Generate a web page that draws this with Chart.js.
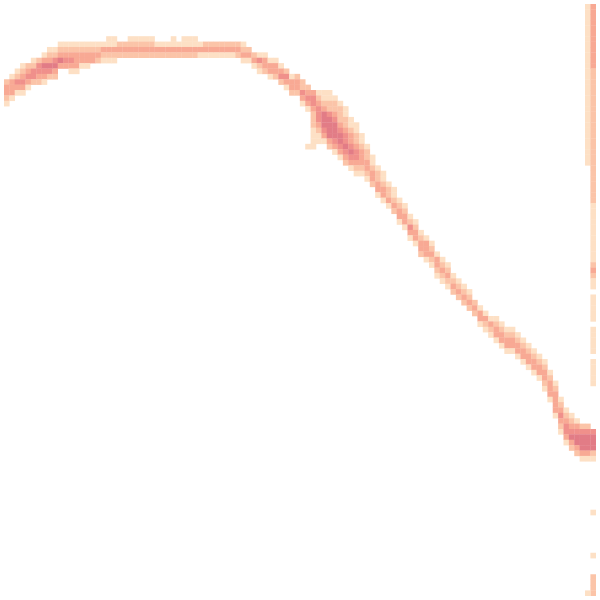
<!DOCTYPE html>
<html>
<head>
<meta charset="utf-8">
<script src="https://cdn.jsdelivr.net/npm/chart.js@4/dist/chart.umd.min.js"></script>
<style>
  html, body { margin: 0; padding: 0; background: #fff; }
  #wrap { width: 600px; height: 600px; }
</style>
</head>
<body>
<div id="wrap"><canvas id="myChart"></canvas></div>
<script>
// grid of bins (columns x rows)
var nCols = 110;
var nRows = 110;

// count level -> colour, light to dark
var levelColors = ['#fde0c5', '#fbc4a8', '#f8a994', '#f0908b', '#e27c86'];

// main curve: [column, first row, levels of the rows going down]
var bandColumns = [
  [0, 14, '23321'], [1, 13, '13331'], [2, 12, '12431'], [3, 11, '123431'],
  [4, 11, '23431'], [5, 10, '12442'], [6, 10, '24432'], [7, 9, '135431'],
  [8, 8, '123542'], [9, 8, '124532'], [10, 7, '12353'], [11, 7, '12343'],
  [12, 7, '123431'], [13, 7, '123331'], [14, 7, '12331'], [15, 7, '12331'],
  [16, 7, '1233'], [17, 7, '1232'], [18, 7, '1321'], [19, 6, '11321'],
  [20, 6, '11321'], [21, 7, '232'], [22, 7, '232'], [23, 6, '1232'],
  [24, 6, '1232'], [25, 6, '1232'], [26, 6, '1232'], [27, 6, '1232'],
  [28, 7, '132'], [29, 7, '132'], [30, 7, '132'], [31, 6, '1132'],
  [32, 7, '132'], [33, 6, '1132'], [34, 6, '1132'], [35, 6, '1132'],
  [36, 7, '131'], [37, 7, '231'], [38, 7, '231'], [39, 7, '231'],
  [40, 7, '231'], [41, 7, '231'], [42, 7, '231'], [43, 7, '232'],
  [44, 7, '1231'], [45, 8, '231'], [46, 9, '231'], [47, 9, '1421'],
  [48, 9, '1332'], [49, 10, '1331'], [50, 10, '1332'], [51, 11, '1342'],
  [52, 12, '2431'], [53, 13, '1332'], [54, 13, '2332'], [55, 14, '22431'],
  [56, 15, '23431'], [57, 16, '34432221111'], [58, 16, '1234443211'],
  [59, 16, '1123555431'], [60, 16, '11224555532'], [61, 17, '12234555431'],
  [62, 18, '12223455431'], [63, 19, '11223445432'], [64, 21, '1123345431'],
  [65, 22, '1122344321'], [66, 24, '11233321'], [67, 26, '1223321'],
  [68, 28, '112332'], [69, 30, '122331'], [70, 31, '112331'], [71, 33, '12231'],
  [72, 34, '11232'], [73, 36, '12331'], [74, 37, '12331'], [75, 39, '12431'],
  [76, 40, '12331'], [77, 42, '12332'], [78, 43, '13331'], [79, 44, '12321'],
  [80, 46, '13321'], [81, 47, '12321'], [82, 48, '12321'], [83, 50, '1232'],
  [84, 51, '1232'], [85, 52, '1232'], [86, 53, '1232'], [87, 55, '232'],
  [88, 56, '1331'], [89, 57, '1321'], [90, 58, '1321'], [91, 58, '12331'],
  [92, 59, '12331'], [93, 60, '12331'], [94, 60, '12331'], [95, 61, '12331'],
  [96, 62, '12331'], [97, 63, '12331'], [98, 64, '12331'], [99, 65, '12331'],
  [100, 66, '123321'], [101, 68, '123331'], [102, 70, '1233331'], [103, 73, '1234321'],
  [104, 75, '1234431'], [105, 76, '1234532'], [106, 77, '1345532'], [107, 78, '2455531'],
  [108, 78, '2455531'], [109, 79, '455521']
];

// the two columns along the right edge (0 = empty bin)
var edgeStrips = [
  [108, 0, '111111111111111111111111111111'],
  [109, 0, '333333333333' + '2222222222222222222222222' + '11111111111' +
           '232' + '11' + '0' + '11111' + '0' + '11111' + '0' + '11111']
];

// single bins away from the curve
var strayCells = [
  [56, 26, '1'], [109, 94, '1'], [109, 102, '1'], [109, 106, '2222'], [108, 109, '1']
];

function toPoints(list) {
  var pts = [];
  list.forEach(function (c) {
    for (var k = 0; k < c[2].length; k++) {
      var v = +c[2][k];
      if (v > 0) pts.push({ x: c[0] + 0.5, y: c[1] + k + 0.5, v: v });
    }
  });
  return pts;
}

window.onload = function () {
  var cells = toPoints(bandColumns).concat(toPoints(edgeStrips), toPoints(strayCells));
  var ctx = document.getElementById('myChart').getContext('2d');

  new Chart(ctx, {
    type: 'scatter',
    data: {
      datasets: [{
        data: cells,
        pointStyle: 'rect',
        borderWidth: 0,
        pointBorderWidth: 0,
        // rect side = radius * sqrt(2), so one bin wide plus a hair to close seams
        pointRadius: function (c) {
          var w = c.chart.chartArea ? c.chart.chartArea.width : 600;
          return (w / nCols + 0.3) / Math.SQRT2;
        },
        pointBackgroundColor: function (c) {
          return c.raw ? levelColors[c.raw.v - 1] : levelColors[0];
        }
      }]
    },
    options: {
      responsive: true,
      maintainAspectRatio: false,
      animation: false,
      events: [],
      layout: { padding: 0 },
      scales: {
        x: { type: 'linear', min: 0, max: nCols, display: false },
        y: { type: 'linear', min: 0, max: nRows, reverse: true, display: false }
      },
      plugins: {
        legend: { display: false },
        tooltip: { enabled: false }
      }
    }
  });
};
</script>
</body>
</html>
